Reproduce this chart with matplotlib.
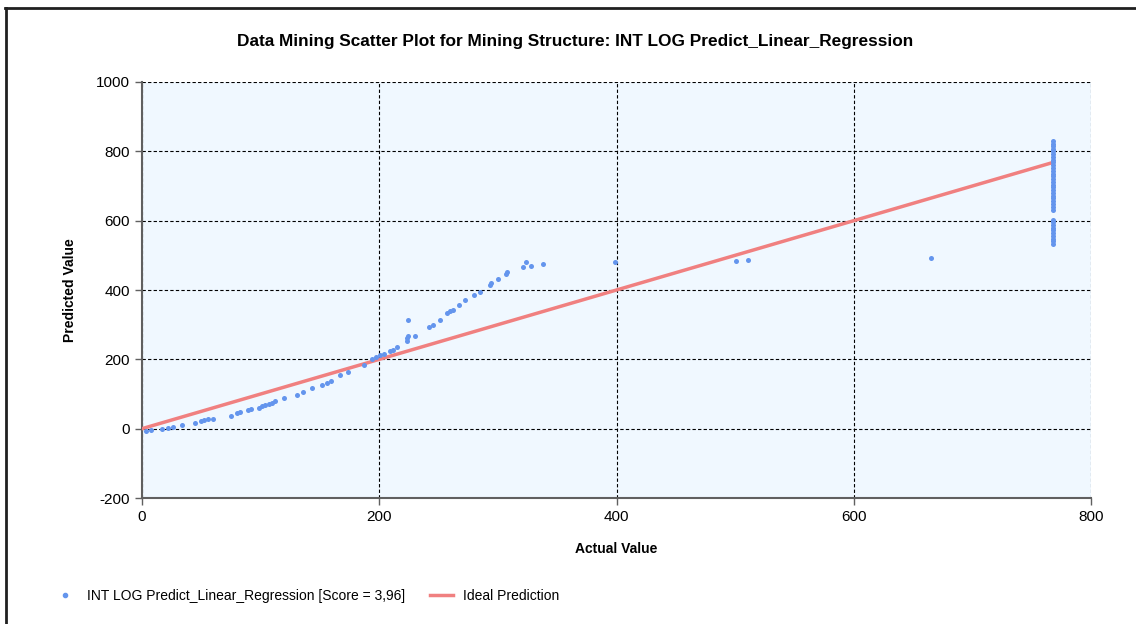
import matplotlib.pyplot as plt
from matplotlib.lines import Line2D

plt.rcParams['font.family'] = ['Liberation Sans', 'DejaVu Sans']
plt.rcParams['axes.unicode_minus'] = False

# Valores (actual, predicho)
actual = [3, 8, 17, 22, 26, 34, 45, 50, 52, 56, 60, 75, 80, 83, 89, 92,
          99, 101, 104, 107, 110, 112, 120, 131, 136, 143, 152, 156, 159,
          167, 174, 187, 194, 197, 201, 204, 209, 212, 215, 223, 223, 224,
          224, 230, 242, 245, 251, 257, 260, 262, 267, 272, 280, 285, 293,
          294, 300, 307, 308, 321, 324, 328, 338, 399, 501, 511, 665]
predicho = [-8, -3, 0, 3, 6, 12, 16, 21, 24, 28, 29, 38, 45, 48, 55, 57,
            60, 64, 67, 70, 74, 79, 88, 98, 106, 117, 127, 132, 138,
            154, 163, 185, 201, 207, 213, 215, 223, 228, 235, 252, 262, 266,
            314, 268, 293, 300, 314, 334, 340, 343, 356, 370, 385, 393, 415,
            420, 433, 447, 452, 466, 480, 470, 476, 480, 484, 486, 492]

# Columna de puntos en actual = 768
columna_y = [829, 822, 815, 808, 800, 792, 784, 776, 768, 760, 752, 744,
             736, 728, 720, 712, 704, 696, 688, 680, 672, 664, 656, 648,
             640, 632, 603, 596, 588, 580, 572, 564, 556, 548, 540, 532]
actual += [768] * len(columna_y)
predicho += columna_y

ideal_x = [0, 768]
ideal_y = [0, 768]

fig = plt.figure(figsize=(11.36, 6.24), dpi=100)
ax = fig.add_axes([0.125, 0.2019, 0.8354, 0.6667])
ax.set_facecolor('#F0F8FF')

ax.grid(True, color='black', linestyle=(0, (3, 2)), linewidth=0.8)
ax.set_axisbelow(True)

ax.plot(ideal_x, ideal_y, color='#F08080', linewidth=2.5, zorder=3,
        label='Ideal Prediction')
ax.scatter(actual, predicho, s=13, color='#6495ED', zorder=4, linewidths=0,
           label='INT LOG Predict_Linear_Regression [Score = 3,96]')

ax.set_xlim(0, 800)
ax.set_ylim(-200, 1000)
ax.set_xticks([0, 200, 400, 600, 800])
ax.set_yticks([-200, 0, 200, 400, 600, 800, 1000])
ax.tick_params(labelsize=11, length=5, color='#606060', width=1)

for s in ['top', 'right']:
    ax.spines[s].set_visible(False)
for s in ['left', 'bottom']:
    ax.spines[s].set_color('#606060')
    ax.spines[s].set_linewidth(1.5)

ax.set_xlabel('Actual Value', fontsize=10, fontweight='bold', labelpad=13)
ax.set_ylabel('Predicted Value', fontsize=10, fontweight='bold', labelpad=14)
fig.suptitle('Data Mining Scatter Plot for Mining Structure: INT LOG Predict_Linear_Regression',
             x=0.506, y=0.945, fontsize=12.4, fontweight='bold')

handles = [
    Line2D([], [], marker='o', linestyle='none', color='#6495ED', markersize=3),
    Line2D([], [], color='#F08080', linewidth=2.5),
]
labels = ['INT LOG Predict_Linear_Regression [Score = 3,96]', 'Ideal Prediction']
fig.legend(handles, labels, loc='center left', bbox_to_anchor=(0.036, 0.045),
           ncol=2, frameon=False, fontsize=10, handlelength=1.7,
           handletextpad=0.7, columnspacing=1.8)

# Marco exterior
fig.add_artist(Line2D([0.005, 0.005], [0, 0.987], transform=fig.transFigure,
                      color='#202020', linewidth=2))
fig.add_artist(Line2D([0.004, 1], [0.987, 0.987], transform=fig.transFigure,
                      color='#202020', linewidth=2))

fig.savefig('out.png', dpi=100)
